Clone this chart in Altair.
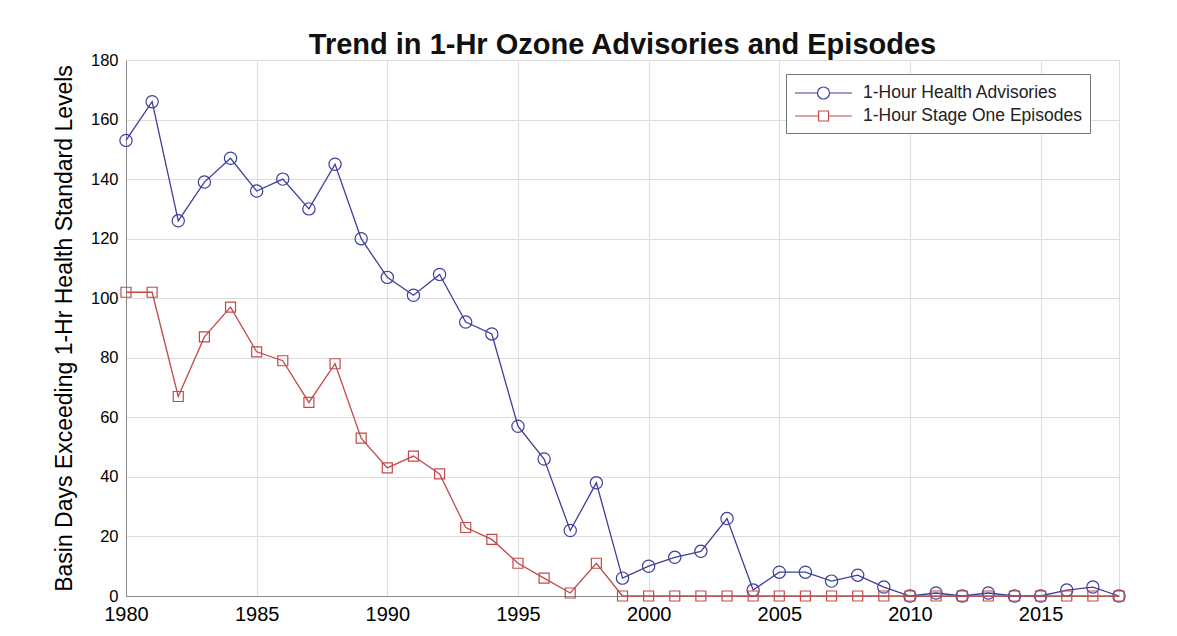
import altair as alt
import pandas as pd

years = list(range(1980, 2019))
advisories = [153, 166, 126, 139, 147, 136, 140, 130, 145, 120,
              107, 101, 108, 92, 88, 57, 46, 22, 38, 6,
              10, 13, 15, 26, 2, 8, 8, 5, 7, 3,
              0, 1, 0, 1, 0, 0, 2, 3, 0]
episodes = [102, 102, 67, 87, 97, 82, 79, 65, 78, 53,
            43, 47, 41, 23, 19, 11, 6, 1, 11, 0,
            0, 0, 0, 0, 0, 0, 0, 0, 0, 0,
            0, 0, 0, 0, 0, 0, 0, 0, 0]
series_names = ["1-Hour Health Advisories", "1-Hour Stage One Episodes"]
series_colors = ["#3d3f9c", "#c24a4a"]
x_ticks = [1980, 1985, 1990, 1995, 2000, 2005, 2010, 2015]
y_ticks = [0, 20, 40, 60, 80, 100, 120, 140, 160, 180]

df = pd.DataFrame({
    "year": years * 2,
    "value": advisories + episodes,
    "series": [series_names[0]] * len(years) + [series_names[1]] * len(years),
})

FONT = "Liberation Sans"

x_enc = alt.X("year:Q", scale=alt.Scale(domain=[1980, 2018], nice=False, zero=False),
              axis=alt.Axis(values=x_ticks, format="d", title=None, grid=True,
                            ticks=False, tickSize=0, labelFontSize=20, labelPadding=8,
                            labelFlush=False))
y_enc = alt.Y("value:Q", scale=alt.Scale(domain=[0, 180], nice=False),
              axis=alt.Axis(values=y_ticks, title="Basin Days Exceeding 1-Hr Health Standard Levels",
                            grid=True, ticks=False, tickSize=0, labelFontSize=16.5, labelPadding=8,
                            titleFontSize=23, titleFontWeight="normal", titlePadding=14))

base = alt.Chart(df)

blue = base.transform_filter(alt.datum.series == series_names[0])
red = base.transform_filter(alt.datum.series == series_names[1])

blue_line = blue.mark_line(color=series_colors[0], strokeWidth=1.3).encode(x=x_enc, y=y_enc)
blue_pts = blue.mark_point(shape="circle", filled=False, size=150, color=series_colors[0],
                           strokeWidth=1.2, opacity=1).encode(x=x_enc, y=y_enc)
red_line = red.mark_line(color=series_colors[1], strokeWidth=1.3).encode(x=x_enc, y=y_enc)
red_pts = red.mark_point(shape="square", filled=False, size=100, color=series_colors[1],
                         strokeWidth=1.2, opacity=1).encode(x=x_enc, y=y_enc)

legend_shapes = [
    "M-1,0H1.25 M2.45,0H4.7 M2.45,0A0.6,0.6 0 1 1 1.25,0A0.6,0.6 0 1 1 2.45,0",
    "M-1,0H1.35 M2.35,0H4.7 M1.35,-0.5H2.35V0.5H1.35Z",
]

proxy = base.mark_point(filled=False, opacity=0).encode(
    x=x_enc, y=y_enc,
    color=alt.Color("series:N", scale=alt.Scale(domain=series_names, range=series_colors),
                    legend=alt.Legend(title=None, orient="none", legendX=660, legendY=14,
                                      strokeColor="#777777", fillColor="white", padding=8,
                                      labelFontSize=17.5, labelColor="#222222", labelFont=FONT,
                                      labelLimit=400,
                                      symbolSize=400, symbolStrokeWidth=1.2, labelOffset=47,
                                      rowPadding=3, symbolOpacity=1)),
    shape=alt.Shape("series:N", scale=alt.Scale(domain=series_names, range=legend_shapes)),
)

chart = alt.layer(blue_line, blue_pts, red_line, red_pts, proxy).properties(
    width=993, height=536,
    title=alt.TitleParams("Trend in 1-Hr Ozone Advisories and Episodes", fontSize=29,
                          fontWeight="bold", font=FONT, color="#111111", anchor="middle",
                          offset=-8),
    autosize=alt.AutoSizeParams(type="none"),
    padding={"left": 118, "top": 52, "right": 50, "bottom": 30},
).configure_view(
    stroke="#555555", strokeWidth=1
).configure_axis(
    labelFont=FONT, titleFont=FONT, labelColor="#222222", titleColor="#222222",
    gridColor="#e4e4e4", gridWidth=1, domainColor="#555555", domainWidth=1
).configure(background="white")

chart.save("out.html", embed_options={"renderer": "svg", "actions": False})
